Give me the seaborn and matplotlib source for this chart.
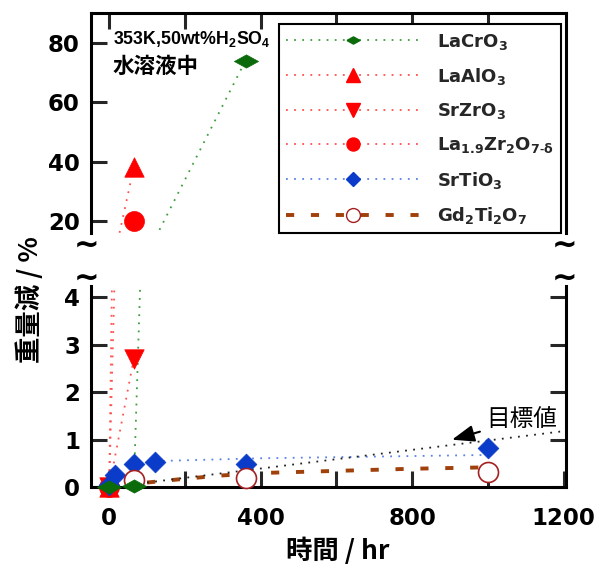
import numpy as np
import pandas as pd
import matplotlib
matplotlib.use('Agg')
import matplotlib.pyplot as plt
import seaborn as sns
from matplotlib.lines import Line2D
from matplotlib.markers import MarkerStyle

sns.set_theme(style='white')
plt.rcParams['font.family'] = ['DejaVu Sans', 'Noto Sans CJK JP']
plt.rcParams['font.weight'] = 'bold'
plt.rcParams['mathtext.fontset'] = 'custom'
plt.rcParams['mathtext.rm'] = 'Liberation Sans:bold'
plt.rcParams['mathtext.bf'] = 'Liberation Sans:bold'
plt.rcParams['mathtext.it'] = 'Liberation Sans:italic'
plt.rcParams['mathtext.default'] = 'regular'

# ---------------- data (time [hr], weight loss [%]) ----------------
lacro_t = [0, 65, 360]
lacro_w = [0.0, 0.02, 74.0]
laalo_t = [0, 65]
laalo_w = [0.0, 38.0]
srzro_t = [0, 65]
srzro_w = [0.0, 2.7]
lazro_t = [0, 65]
lazro_w = [0.0, 20.0]
srtio_t = [0, 15, 65, 120, 360, 1000]
srtio_w = [0.05, 0.26, 0.48, 0.54, 0.50, 0.83]
srtio_fit_t = [120, 400, 700, 1000]
srtio_fit_w = [0.55, 0.61, 0.645, 0.68]
gdtio_t = [65, 360, 1000]
gdtio_w = [0.15, 0.20, 0.33]
gdtio_fit_t = [100, 200, 300, 400, 600, 800, 1000]
gdtio_fit_w = [0.10, 0.18, 0.25, 0.30, 0.345, 0.39, 0.42]
target_t = [100, 1200]
target_w = [0.10, 1.18]

labels = ['LaCrO$_3$', 'LaAlO$_3$', 'SrZrO$_3$',
          'La$_{1.9}$Zr$_2$O$_{7\\text{-}\\delta}$', 'SrTiO$_3$', 'Gd$_2$Ti$_2$O$_7$']
xticks = [0, 200, 400, 600, 800, 1000, 1200]
xticklabels = ['0', '', '400', '', '800', '', '1200']
top_yticks = [20, 40, 60, 80]
bot_yticks = [0, 1, 2, 3, 4]

# ---------------- styles ----------------
green_m, green_l = '#0B6B0B', '#3E9E3E'
red, red_l = '#FF0000', '#FF5050'
blue_m, blue_l = '#0A3BC9', '#5A82E6'
brown = '#A0400A'
gd_edge = '#A52020'
dot = (0, (1, 3.5))
dash = (0, (2.1, 4.3))
flat_d = MarkerStyle([(-1, 0), (0, 0.55), (1, 0), (0, -0.55), (-1, 0)])

fig = plt.figure(figsize=(6.11, 5.68), dpi=100)
W, H = 611, 568
xl, xr = 91, 566
ax_top = fig.add_axes([xl / W, 1 - 233.3 / H, (xr - xl) / W, (233.3 - 13.3) / H])
ax_bot = fig.add_axes([xl / W, 1 - 487.3 / H, (xr - xl) / W, (487.3 - 286) / H])
ax_top.set_xlim(-48, 1206)
ax_bot.set_xlim(-48, 1206)
ax_top.set_ylim(15.85, 89.9)
ax_bot.set_ylim(0, 4.23)

line_sets = [
    (lacro_t, lacro_w, green_l, dot, 1.3),
    (laalo_t, laalo_w, red_l, dot, 1.3),
    (srzro_t, srzro_w, red_l, dot, 1.3),
    (lazro_t, lazro_w, red_l, dot, 1.3),
    (srtio_fit_t, srtio_fit_w, blue_l, dot, 1.3),
    (gdtio_fit_t, gdtio_fit_w, brown, dash, 2.8),
    (target_t, target_w, '#222222', dot, 1.3),
]
marker_sets = [
    (laalo_t, laalo_w, '^', 196, red, red, 0.5, 3),
    (srzro_t, srzro_w, 'v', 196, red, red, 0.5, 3),
    (lazro_t, lazro_w, 'o', 207, red, red, 0.5, 3),
    (srtio_t, srtio_w, 'D', 112, blue_m, blue_m, 0.5, 4),
    (gdtio_t, gdtio_w, 'o', 207, 'white', gd_edge, 1.2, 5),
    (lacro_t, lacro_w, flat_d, 300, green_m, green_m, 0.5, 6),
]

for ax in (ax_top, ax_bot):
    lo, hi = ax.get_ylim()
    for t, w, lc, ls, lw in line_sets:
        sns.lineplot(x=t, y=w, ax=ax, color=lc, linestyle=ls, linewidth=lw,
                     estimator=None, sort=False, zorder=2)
    for t, w, m, s, fc, ec, mew, z in marker_sets:
        df = pd.DataFrame({'t': t, 'w': w})
        df = df[(df.w >= lo) & (df.w <= hi)]
        if len(df):
            sns.scatterplot(data=df, x='t', y='w', ax=ax, marker=m, s=s, color=fc,
                            edgecolor=ec, linewidth=mew, clip_on=False, zorder=z, legend=False)
    ax.set_xlabel('')
    ax.set_ylabel('')
    for sp in ax.spines.values():
        sp.set_linewidth(2.2)
        sp.set_color('black')

# spines for broken axis
ax_top.spines['bottom'].set_visible(False)
ax_bot.spines['top'].set_visible(False)

# ticks
ax_top.set_xticks(xticks[:-1])
ax_top.set_yticks(top_yticks)
ax_top.tick_params(axis='x', top=True, bottom=False, labeltop=False, labelbottom=False,
                   direction='in', length=11.5, width=2.2)
ax_top.tick_params(axis='y', left=True, right=False, direction='in', length=11.5, width=2.2,
                   labelsize=16.5, pad=8)
ax_bot.set_xticks(xticks)
ax_bot.set_xticklabels(xticklabels)
ax_bot.set_yticks(bot_yticks)
ax_bot.tick_params(axis='x', bottom=True, top=False, direction='in', length=11.5, width=2.2,
                   labelsize=16.5, pad=14)
ax_bot.tick_params(axis='y', left=True, right=True, labelright=False, direction='in',
                   length=11.5, width=2.2, labelsize=16.5, pad=8)
for ax in (ax_top, ax_bot):
    for lbl in ax.get_xticklabels() + ax.get_yticklabels():
        lbl.set_fontweight('bold')
        lbl.set_color('black')

# legend
handles = [
    Line2D([], [], color=green_l, ls=dot, lw=1.3, marker=flat_d, ms=9.4, mfc=green_m, mec=green_m),
    Line2D([], [], color=red_l, ls=dot, lw=1.3, marker='^', ms=9.4, mfc=red, mec=red),
    Line2D([], [], color=red_l, ls=dot, lw=1.3, marker='v', ms=9.4, mfc=red, mec=red),
    Line2D([], [], color=red_l, ls=dot, lw=1.3, marker='o', ms=9.4, mfc=red, mec=red),
    Line2D([], [], color=blue_l, ls=dot, lw=1.3, marker='D', ms=7, mfc=blue_m, mec=blue_m),
    Line2D([], [], color=brown, ls=dash, lw=2.8, marker='o', ms=10, mfc='white',
           mec=gd_edge, mew=1.0),
]
leg = ax_top.legend(handles, labels, loc='upper right', bbox_to_anchor=(0.989, 0.95),
                    frameon=True, fancybox=False, framealpha=1, edgecolor='black',
                    handlelength=7.4, handletextpad=0.94, numpoints=1, labelspacing=0.79,
                    borderpad=0.4, borderaxespad=0,
                    prop={'family': 'DejaVu Sans', 'weight': 'bold', 'size': 13})
leg.get_frame().set_linewidth(1.5)
leg.set_zorder(10)

# condition text
fig.text(113 / W, 1 - 39 / H, '353K,50wt%H$_2$SO$_4$', ha='left', va='center', fontsize=12.8,
         family=['Liberation Sans', 'Noto Sans CJK JP'], weight='bold', color='black')
fig.text(113 / W, 1 - 66 / H, '水溶液中', ha='left', va='center', fontsize=15.5,
         family=['Noto Sans CJK JP'], weight='bold', color='black')

# target annotation
ax_bot.annotate('目標値', xy=(905, 1.0), xytext=(1088, 1.42), ha='center', va='center',
                fontsize=17, family=['Noto Sans CJK JP'], weight='normal', color='black',
                arrowprops=dict(arrowstyle='-|>,head_length=0.8,head_width=0.3', color='black',
                                lw=1.5, shrinkA=2, shrinkB=0))

# break marks
for (x, y) in [(86.5, 241.7), (86.5, 275), (564.5, 241.7), (564.5, 275)]:
    fig.text(x / W, 1 - y / H, '~', ha='center', va='center_baseline', fontsize=22,
             weight='bold', color='black', family=['DejaVu Sans'])

# axis labels
fig.text(30 / W, 1 - 300 / H, '重量減 / %', rotation=90, ha='center', va='center',
         fontsize=19, weight='bold', family=['Noto Sans CJK JP', 'DejaVu Sans'], color='black')
fig.text(338 / W, 1 - 551 / H, '時間 / hr', ha='center', va='center',
         fontsize=19, weight='bold', family=['Noto Sans CJK JP', 'DejaVu Sans'], color='black')

fig.savefig('out.png', dpi=100)
